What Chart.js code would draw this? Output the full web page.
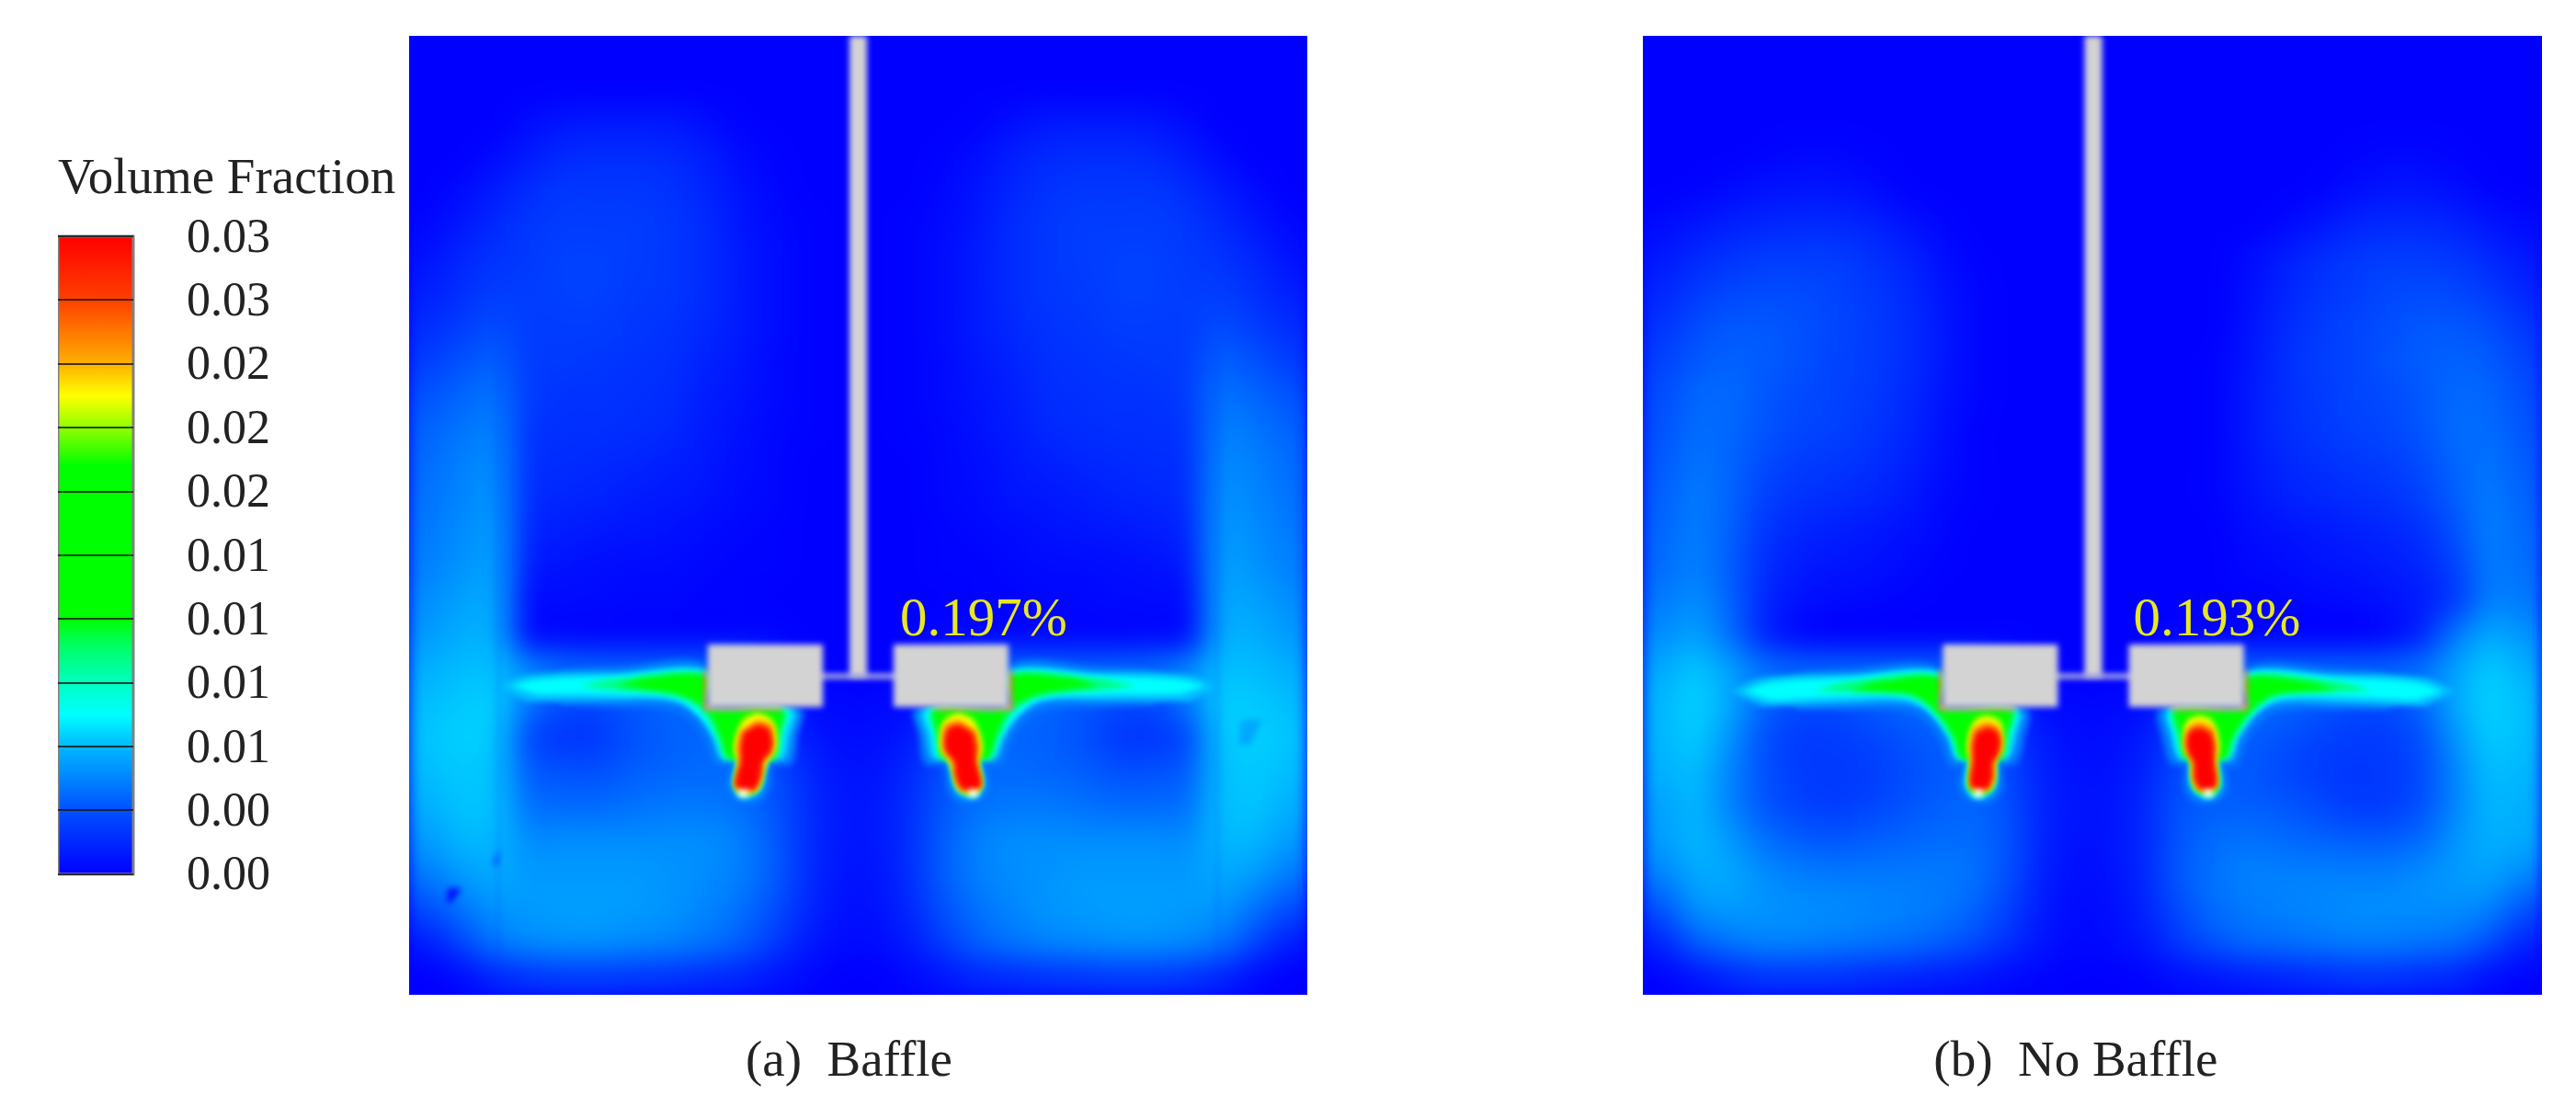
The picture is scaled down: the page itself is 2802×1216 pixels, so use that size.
<!DOCTYPE html>
<html lang="en">
<head>
  <meta charset="UTF-8">
  <title>Volume Fraction - Baffle vs No Baffle</title>
  <script src="https://cdn.jsdelivr.net/npm/chart.js"></script>
  <style>
    html, body { margin: 0; background: #fff; }
    body { width: 2802px; height: 1216px; position: relative; overflow: hidden; }
    canvas { position: absolute; }
    #scaleChart { left: 63px; top: 158px; }
    #panelA { left: 445px; top: 39px; }
    #panelB { left: 1787px; top: 39px; }
  </style>
</head>
<body>
  <canvas id="scaleChart" width="377" height="882"></canvas>
  <canvas id="panelA" width="977" height="1177"></canvas>
  <canvas id="panelB" width="978" height="1177"></canvas>

  <script>
    // colour bar
    const scaleTitle = 'Volume Fraction';
    const scaleTicks = ['0.00', '0.00', '0.01', '0.01', '0.01', '0.01', '0.02', '0.02', '0.02', '0.03', '0.03'];
    const scaleSegments = [0.003, 0.003, 0.003, 0.003, 0.003, 0.003, 0.003, 0.003, 0.003, 0.003];

    // tank size
    const tankWidth = 977;
    const tankHeight = 1043;

    // volume fraction x 10000, 26 columns by 28 rows, top of tank first
    const fieldA = [
      [0,0,0,0,0,0,0,0,0,0,0,0,0,0,0,0,0,0,0,0,0,0,0,0,0,0],
      [0,0,0,0,0,0,0,0,0,0,0,0,0,0,0,0,0,0,0,0,0,0,0,0,0,0],
      [0,0,0,3,6,7,7,7,4,1,0,0,0,0,0,0,1,4,7,7,7,6,3,0,0,0],
      [0,0,3,8,12,13,13,12,9,4,1,0,0,0,0,1,4,9,12,13,13,12,8,3,0,0],
      [0,3,8,13,16,16,16,15,11,6,2,0,0,0,0,2,6,11,15,16,16,16,13,8,3,0],
      [2,7,12,16,18,18,18,16,13,7,3,1,0,0,1,3,7,13,16,18,18,18,16,12,7,2],
      [5,11,15,17,19,19,18,16,13,8,4,1,0,0,1,4,8,13,16,18,19,19,17,15,11,5],
      [9,14,18,18,19,19,17,16,13,8,4,1,0,0,1,4,8,13,16,17,19,19,18,18,14,9],
      [13,18,22,18,18,18,16,15,12,8,4,1,0,0,1,4,8,12,15,16,18,18,18,22,18,13],
      [18,24,28,18,17,16,15,14,10,7,3,1,0,0,1,3,7,10,14,15,16,17,18,28,24,18],
      [24,30,33,18,15,15,14,13,9,6,3,1,0,0,1,3,6,9,13,14,15,15,18,33,30,24],
      [29,35,37,16,14,14,13,12,8,5,2,1,0,0,1,2,5,8,12,13,14,14,16,37,35,29],
      [32,38,40,15,13,12,11,9,7,4,2,0,0,0,0,2,4,7,9,11,12,13,15,40,38,32],
      [34,40,42,14,11,10,8,7,6,3,2,0,0,0,0,2,3,6,7,8,10,11,14,42,40,34],
      [36,42,44,12,8,7,6,5,3,2,1,0,0,0,0,1,2,3,5,6,7,8,12,44,42,36],
      [38,44,46,9,5,4,3,3,2,1,1,0,0,0,0,1,1,2,3,3,4,5,9,46,44,38],
      [42,48,48,5,3,3,2,2,1,1,0,0,0,0,0,0,1,1,2,2,3,3,5,48,48,42],
      [46,52,50,6,3,2,2,2,2,2,2,0,0,0,0,2,2,2,2,2,2,3,6,50,52,46],
      [52,56,56,40,32,30,30,30,30,28,10,2,0,0,2,10,28,30,30,30,30,32,40,56,56,52],
      [56,60,60,34,22,22,26,30,30,28,14,4,2,2,4,14,28,30,30,26,22,22,34,60,60,56],
      [58,62,58,22,16,17,24,28,30,30,20,8,4,4,8,20,30,30,28,24,17,16,22,58,62,58],
      [56,60,56,28,24,24,28,30,32,30,24,12,6,6,12,24,30,32,30,28,24,24,28,56,60,56],
      [52,58,56,34,32,32,34,36,36,34,26,14,7,7,14,26,34,36,36,34,32,32,34,56,58,52],
      [46,54,54,42,42,42,42,42,42,38,28,14,7,7,14,28,38,42,42,42,42,42,42,54,54,46],
      [36,46,50,46,46,46,46,44,42,38,28,14,6,6,14,28,38,42,44,46,46,46,46,50,46,36],
      [22,34,44,46,47,47,46,44,40,34,24,12,5,5,12,24,34,40,44,46,47,47,46,44,34,22],
      [8,20,34,40,42,42,40,38,34,28,18,8,3,3,8,18,28,34,38,40,42,42,40,34,20,8],
      [0,3,10,14,16,16,15,14,12,10,6,2,0,0,2,6,10,12,14,15,16,16,14,10,3,0]
    ];
    const fieldB = [
      [0,0,0,0,0,0,0,0,0,0,0,0,0,0,0,0,0,0,0,0,0,0,0,0,0,0],
      [0,0,0,0,0,0,0,0,0,0,0,0,0,0,0,0,0,0,0,0,0,0,0,0,0,0],
      [0,0,0,0,0,0,0,0,0,0,0,0,0,0,0,0,0,0,0,0,0,0,0,0,0,0],
      [0,0,0,1,2,2,1,0,0,0,0,0,0,0,0,0,0,0,0,0,1,2,2,1,0,0],
      [0,1,3,5,6,6,4,1,0,0,0,0,0,0,0,0,0,0,0,1,4,6,6,4,1,0],
      [3,6,9,11,12,12,10,6,2,0,0,0,0,0,0,0,0,0,2,6,10,12,12,10,6,3],
      [7,12,15,18,18,18,15,11,5,1,0,0,0,0,0,0,0,3,8,13,16,18,18,16,12,7],
      [11,17,21,22,22,20,17,13,7,2,0,0,0,0,0,0,0,4,10,15,18,21,22,21,17,11],
      [15,22,26,26,24,21,18,14,8,2,0,0,0,0,0,0,0,5,12,17,20,23,26,26,23,16],
      [19,26,29,27,24,20,18,14,8,2,0,0,0,0,0,0,1,6,13,18,20,24,27,29,27,20],
      [22,30,31,26,22,20,17,13,7,2,0,0,0,0,0,0,1,7,13,17,20,22,26,31,30,23],
      [24,32,31,25,21,19,16,12,6,1,0,0,0,0,0,0,1,7,13,16,19,21,25,32,32,25],
      [26,34,30,22,18,16,14,10,5,1,0,0,0,0,0,0,1,6,11,14,16,18,22,30,34,27],
      [28,36,30,19,15,13,11,8,3,1,0,0,0,0,0,0,1,5,9,11,13,15,19,28,36,29],
      [30,37,29,16,11,9,7,5,2,0,0,0,0,0,0,0,0,3,5,7,9,11,14,24,37,31],
      [32,38,28,14,8,6,5,3,1,0,0,0,0,0,0,0,0,2,3,5,6,8,11,20,36,33],
      [36,42,30,12,5,3,2,1,0,0,0,0,0,0,0,0,0,0,1,2,3,5,8,18,38,36],
      [42,48,34,12,3,1,1,1,1,1,1,0,0,0,0,1,1,1,1,1,1,3,12,36,50,44],
      [50,58,48,34,30,30,30,30,30,28,10,2,0,0,2,10,28,30,30,30,30,30,34,48,60,52],
      [54,62,50,30,22,22,26,30,30,28,14,4,2,2,4,14,28,30,30,26,22,22,30,50,62,56],
      [54,60,44,24,18,18,20,24,28,28,20,8,4,4,8,20,28,28,24,20,18,18,24,44,60,56],
      [52,56,40,24,18,17,18,22,26,28,22,10,5,5,10,22,28,26,22,18,16,17,22,40,56,54],
      [48,54,40,26,20,18,20,24,28,30,24,11,6,6,12,24,28,28,26,22,18,18,24,40,54,52],
      [46,54,46,34,28,26,28,30,32,32,25,11,5,6,12,25,32,34,32,30,28,28,32,44,52,50],
      [38,50,50,42,38,36,36,36,36,34,24,10,4,5,12,26,34,38,38,38,38,38,42,46,48,40],
      [24,42,46,44,42,42,40,38,36,30,20,8,3,4,10,22,32,36,38,40,42,42,42,42,38,24],
      [10,26,34,38,38,36,34,32,28,22,14,6,2,3,7,16,24,30,32,34,36,36,34,32,22,10],
      [1,5,10,14,14,14,12,10,8,6,3,1,0,0,1,4,6,8,10,12,14,14,12,10,4,1]
    ];

    // jet contours: [distance from shaft, depth in tank]
    const jetOuterA = [[350,708],[320,690],[260,686],[170,682],[165,731],[62,733],[66,761],[72,792],[92,795],[96,818],[108,834],[132,834],[145,818],[140,795],[156,795],[168,765],[186,742],[210,732],[260,730],[320,728]];
    const jetHaloA = [[392,708],[360,695],[260,692],[165,689],[165,731],[69,733],[73,761],[80,787],[98,787],[103,814],[112,828],[130,828],[138,814],[134,787],[150,787],[160,761],[177,736],[204,724],[260,723],[360,724]];
    const jetCyanA = [[378,707],[350,700],[260,696],[165,693],[165,731],[75,733],[80,761],[85,784],[98,787],[105,814],[113,824],[128,824],[135,813],[132,786],[145,786],[157,761],[174,739],[200,721],[260,717],[350,716]];
    const jetSpringA = [[303,707],[260,699],[165,696],[165,731],[80,733],[84,761],[89,786],[99,787],[107,814],[115,823],[128,823],[134,814],[131,786],[144,786],[154,761],[170,734],[197,718],[260,712]];
    const jetGreenA = [[262,706],[227,698],[165,697],[165,731],[84,733],[87,761],[92,786],[100,787],[108,813],[117,823],[127,823],[132,814],[130,787],[141,786],[150,761],[165,733],[194,717],[227,711]];
    const jetYellowA = [[110,736],[95,743],[89,758],[90,778],[98,788],[104,803],[108,818],[115,823],[128,823],[134,814],[131,791],[135,776],[132,758],[125,743]];
    const jetOrangeA = [[110,744],[95,749],[92,764],[94,779],[102,789],[105,808],[113,821],[130,821],[134,813],[129,789],[132,774],[128,756]];
    const jetRedA = [[110,749],[98,753],[94,764],[95,778],[104,789],[106,804],[113,819],[130,819],[134,813],[128,789],[128,774],[125,758]];

    const jetOuterB = [[350,713],[320,694],[263,688],[172,685],[166,731],[72,733],[75,765],[84,792],[98,795],[98,818],[110,834],[134,834],[147,818],[144,795],[156,795],[168,765],[190,740],[215,733],[263,733],[320,733]];
    const jetHaloB = [[394,713],[360,698],[263,694],[166,692],[166,731],[80,733],[83,761],[92,787],[105,787],[105,815],[116,828],[131,828],[140,815],[138,787],[150,787],[160,761],[183,733],[210,725],[263,726],[360,729]];
    const jetCyanB = [[380,713],[350,703],[263,698],[166,694],[166,731],[84,733],[88,761],[95,785],[105,787],[107,814],[116,825],[131,825],[138,814],[136,786],[147,786],[157,761],[180,733],[206,720],[263,719],[350,723]];
    const jetSpringB = [[303,712],[263,702],[166,697],[166,731],[88,733],[91,761],[98,786],[105,787],[108,814],[116,824],[131,824],[136,814],[135,786],[145,786],[155,761],[176,733],[200,717],[263,714]];
    const jetGreenB = [[265,711],[230,702],[166,699],[166,731],[90,733],[95,761],[100,786],[106,787],[110,814],[117,823],[131,823],[135,814],[133,787],[143,786],[152,761],[172,733],[196,717],[230,713]];
    const jetYellowB = [[116,739],[102,745],[98,762],[99,778],[106,788],[107,805],[113,820],[130,820],[135,814],[134,790],[137,775],[134,755],[128,743]];
    const jetOrangeB = [[116,746],[104,751],[100,765],[102,780],[108,790],[108,808],[115,820],[130,820],[134,812],[132,789],[134,772],[130,752]];
    const jetRedB = [[116,752],[105,756],[101,768],[104,782],[109,790],[110,808],[116,819],[130,819],[134,811],[131,789],[131,772],[128,758]];

    // impeller, same in both tanks: [distance from shaft, depth]
    const bladeShape = [[38.5,662],[163.5,662],[163.5,730],[38.5,730]];
    const bladeTipEdge = [[163,690],[167,690],[167,732],[163,732]];
    const bladeUnderEdge = [[84,729],[167,729],[167,733],[84,733]];
    const spargerHole = [[120,820],[130,820],[130,828],[120,828]];

    // mesh marks only seen in tank (a): [x, depth]
    const fleckDark = [[42,927],[57,927],[46,943],[41,943]];
    const fleckMid = [[98,883],[91,902],[97,902]];
    const fleckRight = [[905,744],[928,744],[915,771],[902,771]];
    const seamLeft = [[97,340],[97,1030]];
    const seamRight = [[879,340],[879,1030]];

    const volumeA = '0.197%';
    const volumeB = '0.193%';
    const captionA = '(a)  Baffle';
    const captionB = '(b)  No Baffle';

    const SERIF = '"Liberation Serif", "Times New Roman", serif';
    const barStops = [
      [0, '#ff0000'], [0.1, '#ff4000'], [0.2, '#ffb000'], [0.25, '#ffff00'], [0.3, '#90ff00'], [0.36, '#00ff00'],
      [0.6, '#00ff00'], [0.64, '#00ff60'], [0.7, '#00ffc0'], [0.75, '#00ffff'], [0.8, '#00b8ff'], [0.9, '#0050ff'], [1, '#0000ff']
    ];

    // colour bar chart
    new Chart(document.getElementById('scaleChart'), {
      type: 'bar',
      data: {
        labels: [''],
        datasets: scaleSegments.map(v => ({
          data: [v],
          borderWidth: 0,
          backgroundColor(c) {
            const area = c.chart.chartArea;
            if (!area) return '#0000ff';
            const g = c.chart.ctx.createLinearGradient(0, area.top, 0, area.bottom);
            barStops.forEach(s => g.addColorStop(s[0], s[1]));
            return g;
          }
        }))
      },
      options: {
        responsive: false,
        animation: false,
        datasets: { bar: { categoryPercentage: 1, barPercentage: 1 } },
        scales: {
          x: { stacked: true, display: false },
          y: {
            stacked: true,
            position: 'right',
            min: 0,
            max: 0.03,
            afterFit(scale) { scale.width = 295; },
            border: { display: false },
            grid: { z: 1, color: 'rgba(20,20,20,0.8)', lineWidth: 2, drawTicks: false },
            ticks: {
              stepSize: 0.003,
              autoSkip: false,
              padding: 58,
              labelOffset: 3,
              color: '#222',
              font: { family: SERIF, size: 52 },
              callback: (v, i) => scaleTicks[i]
            }
          }
        },
        plugins: {
          legend: { display: false },
          tooltip: { enabled: false },
          title: {
            display: true,
            text: scaleTitle,
            align: 'start',
            color: '#222',
            font: { family: SERIF, size: 55, weight: 'normal' },
            padding: { top: 5, bottom: 28 }
          }
        }
      },
      plugins: [{
        id: 'barFrame',
        afterDatasetsDraw(chart) {
          const { ctx, chartArea: a } = chart;
          ctx.save();
          ctx.strokeStyle = '#808080';
          ctx.lineWidth = 3;
          ctx.strokeRect(a.left, a.top, a.right - a.left, a.bottom - a.top);
          ctx.restore();
        }
      }]
    });

    function shape(points, colour) {
      return { data: points.map(p => ({ x: p[0], y: p[1] })), backgroundColor: colour, fill: 'shape', showLine: true, borderWidth: 0, pointRadius: 0 };
    }
    function smooth(points, colour) {
      return Object.assign(shape(points, colour), { tension: 0.35 });
    }
    const side = (points, axis, dir) => points.map(p => [axis + dir * p[0], p[1]]);

    // field colours run blue to cyan up to 76
    function paintField(field) {
      const rows = field.length, cols = field[0].length;
      const small = document.createElement('canvas');
      small.width = cols; small.height = rows;
      const sctx = small.getContext('2d');
      const img = sctx.createImageData(cols, rows);
      field.forEach((row, r) => row.forEach((v, c) => {
        const i = (r * cols + c) * 4;
        img.data[i] = 0;
        img.data[i + 1] = Math.min(255, v * 255 / 76);
        img.data[i + 2] = 255;
        img.data[i + 3] = 255;
      }));
      sctx.putImageData(img, 0, 0);
      return small;
    }

    function makePanel(id, field, jets, axis, labels, extras) {
      const small = paintField(field);
      const jetColours = ['#0078ff', '#00c0ff', '#00ffff', '#00ff80', '#00ff00', '#ffff00', '#ff9000', '#ff0000'];
      const list = [];
      [-1, 1].forEach(dir => jets.forEach((j, i) => list.push(smooth(side(j, axis, dir), jetColours[i]))));
      extras.forEach(e => list.push(e));
      // shaft and hub disc
      list.push(shape([[axis - 9.5, 0], [axis + 9.5, 0], [axis + 9.5, 697], [axis - 9.5, 697]], '#d3d3d3'));
      list.push(shape([[axis - 45, 694], [axis + 45, 694], [axis + 45, 699], [axis - 45, 699]], '#c8c8dc'));
      [-1, 1].forEach(dir => {
        list.push(shape(side(bladeTipEdge, axis, dir), '#ff5a30'));
        list.push(shape(side(bladeUnderEdge, axis, dir), '#ff8060'));
        list.push(shape(side(bladeShape, axis, dir), '#d3d3d3'));
        list.push(shape(side(spargerHole, axis, dir), '#ffffff'));
      });
      list.reverse();

      new Chart(document.getElementById(id), {
        type: 'scatter',
        data: { datasets: list },
        options: {
          responsive: false,
          animation: false,
          layout: { padding: { bottom: 134 } },
          scales: {
            x: { type: 'linear', display: false, min: 0, max: tankWidth },
            y: { type: 'linear', display: false, min: 0, max: tankHeight, reverse: true }
          },
          plugins: { legend: { display: false }, tooltip: { enabled: false } }
        },
        plugins: [{
          id: 'fieldAndText',
          beforeDatasetsDraw(chart) {
            const { ctx, chartArea: a, scales: { x, y } } = chart;
            const left = x.getPixelForValue(0), right = x.getPixelForValue(tankWidth);
            const top = y.getPixelForValue(0), bottom = y.getPixelForValue(tankHeight);
            ctx.save();
            ctx.beginPath();
            ctx.rect(a.left, a.top, a.right - a.left, a.bottom - a.top);
            ctx.clip();
            ctx.fillStyle = '#0000ff';
            ctx.fillRect(left, top, right - left, bottom - top);
            ctx.imageSmoothingEnabled = true;
            ctx.imageSmoothingQuality = 'high';
            ctx.filter = 'blur(8px)';
            ctx.drawImage(small, left, top, right - left, bottom - top);
            ctx.restore();
            ctx.filter = 'blur(3px)';
          },
          afterDatasetsDraw(chart) {
            const { ctx, scales: { x, y } } = chart;
            ctx.filter = 'none';
            ctx.save();
            labels.forEach(t => {
              ctx.font = t.size + 'px ' + SERIF;
              ctx.fillStyle = t.colour;
              ctx.textAlign = 'left';
              ctx.textBaseline = 'alphabetic';
              ctx.fillText(t.text, x.getPixelForValue(t.x), y.getPixelForValue(t.y));
            });
            ctx.restore();
          }
        }]
      });
    }

    const seam = (pts) => ({ data: pts.map(p => ({ x: p[0], y: p[1] })), showLine: true, borderColor: 'rgba(0,50,255,0.3)', borderWidth: 2, pointRadius: 0, fill: false });

    makePanel('panelA', fieldA,
      [jetOuterA, jetHaloA, jetCyanA, jetSpringA, jetGreenA, jetYellowA, jetOrangeA, jetRedA], 488.5,
      [{ text: volumeA, x: 534, y: 652, size: 59, colour: '#e8e820' },
       { text: captionA, x: 366, y: 1131, size: 55, colour: '#222' }],
      [seam(seamLeft), seam(seamRight), shape(fleckDark, '#0010ff'), shape(fleckMid, '#0050ff'), shape(fleckRight, '#00a8ff')]);

    makePanel('panelB', fieldB,
      [jetOuterB, jetHaloB, jetCyanB, jetSpringB, jetGreenB, jetYellowB, jetOrangeB, jetRedB], 489.5,
      [{ text: volumeB, x: 533, y: 652, size: 59, colour: '#e8e820' },
       { text: captionB, x: 316, y: 1131, size: 55, colour: '#222' }],
      []);
  </script>
</body>
</html>
